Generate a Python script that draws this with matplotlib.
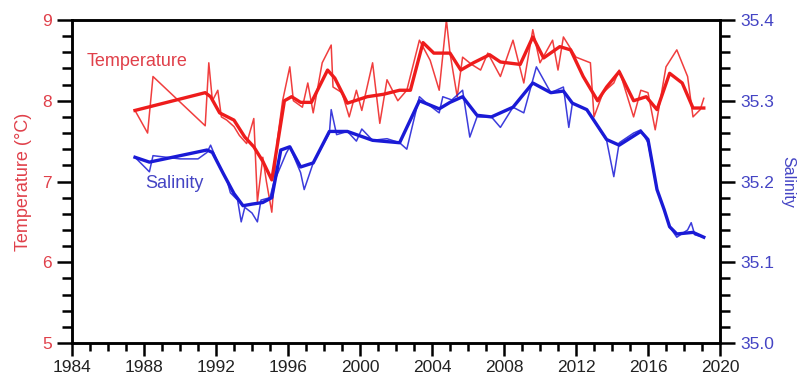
import matplotlib
matplotlib.use("Agg")
from matplotlib import pyplot as plt
from matplotlib.ticker import MultipleLocator

plt.rcParams['font.family'] = ['Liberation Sans', 'DejaVu Sans']

# температура, сырые значения
temp_raw_year = [1987.5, 1988.2, 1988.5, 1991.4, 1991.6, 1991.8, 1992.1, 1992.3, 1992.6, 1993.0,
                 1993.3, 1993.7, 1994.1, 1994.3, 1994.6, 1994.8, 1995.1, 1995.4, 1995.7, 1996.1,
                 1996.3, 1996.8, 1997.1, 1997.4, 1997.9, 1998.4, 1998.5, 1999.0, 1999.4, 1999.8,
                 2000.1, 2000.7, 2001.1, 2001.5, 2002.1, 2002.6, 2003.3, 2003.9, 2004.4, 2004.8,
                 2005.0, 2005.4, 2005.7, 2006.2, 2006.7, 2007.1, 2007.8, 2008.5, 2009.1, 2009.6,
                 2010.0, 2010.7, 2011.0, 2011.3, 2012.0, 2012.8, 2013.0, 2013.5, 2014.1, 2014.4,
                 2015.2, 2015.6, 2016.0, 2016.4, 2017.0, 2017.6, 2018.2, 2018.5, 2018.9, 2019.1]
temp_raw = [7.88, 7.60, 8.30, 7.69, 8.47, 8.00, 8.13, 7.80, 7.76, 7.68,
            7.57, 7.47, 7.78, 6.75, 7.30, 7.00, 6.62, 7.50, 8.00, 8.42,
            8.00, 7.92, 8.22, 7.85, 8.47, 8.69, 8.17, 8.10, 7.80, 8.13,
            7.88, 8.47, 7.72, 8.26, 8.00, 8.13, 8.75, 8.50, 8.13, 9.00,
            8.59, 8.05, 8.54, 8.45, 8.38, 8.59, 8.30, 8.75, 8.22, 8.88,
            8.47, 8.75, 8.38, 8.79, 8.54, 8.47, 7.80, 8.10, 8.22, 8.38,
            7.80, 8.13, 8.10, 7.64, 8.42, 8.63, 8.30, 7.80, 7.89, 8.03]

# температура, сглаженная
temp_smooth_year = [1987.5, 1991.4, 1991.7, 1992.2, 1993.0, 1993.6, 1994.1, 1994.6, 1995.1, 1995.8,
                    1996.2, 1996.7, 1997.3, 1998.2, 1998.6, 1999.3, 2000.4, 2001.3, 2002.2, 2002.8,
                    2003.5, 2004.1, 2005.0, 2005.6, 2006.3, 2007.2, 2007.8, 2008.9, 2009.6, 2010.2,
                    2011.1, 2011.7, 2012.4, 2013.2, 2013.7, 2014.4, 2015.2, 2015.9, 2016.5, 2017.2,
                    2017.9, 2018.5, 2019.1]
temp_smooth = [7.88, 8.10, 8.05, 7.85, 7.76, 7.55, 7.43, 7.25, 7.02, 8.00,
               8.05, 7.98, 7.98, 8.38, 8.28, 7.97, 8.05, 8.08, 8.13, 8.13,
               8.72, 8.59, 8.59, 8.38, 8.47, 8.57, 8.48, 8.45, 8.79, 8.53,
               8.67, 8.63, 8.30, 8.00, 8.17, 8.36, 8.00, 8.05, 7.89, 8.34,
               8.22, 7.91, 7.91]

# солёность, сырые значения
sal_raw_year = [1987.5, 1988.3, 1988.5, 1990.0, 1991.0, 1991.5, 1991.7, 1992.2, 1992.6, 1992.8,
                1993.2, 1993.4, 1993.6, 1994.0, 1994.3, 1994.5, 1995.0, 1995.2, 1995.9, 1996.1,
                1996.7, 1996.9, 1997.4, 1998.3, 1998.4, 1998.7, 1999.3, 1999.8, 2000.1, 2000.7,
                2001.5, 2002.2, 2002.6, 2003.3, 2003.7, 2004.4, 2004.6, 2005.1, 2005.7, 2006.1,
                2006.5, 2007.3, 2007.8, 2008.5, 2009.1, 2009.8, 2010.6, 2011.3, 2011.6, 2011.8,
                2012.6, 2013.7, 2014.1, 2014.4, 2015.2, 2015.6, 2016.0, 2016.5, 2016.9, 2017.2,
                2017.6, 2018.2, 2018.4, 2018.6, 2019.1]
sal_raw = [35.230, 35.212, 35.232, 35.228, 35.228, 35.236, 35.245, 35.218, 35.202, 35.186,
           35.177, 35.150, 35.168, 35.161, 35.150, 35.177, 35.180, 35.198, 35.235, 35.243,
           35.211, 35.190, 35.223, 35.260, 35.289, 35.258, 35.262, 35.250, 35.265, 35.251,
           35.253, 35.248, 35.240, 35.305, 35.297, 35.285, 35.305, 35.301, 35.313, 35.255,
           35.280, 35.280, 35.267, 35.292, 35.285, 35.342, 35.310, 35.317, 35.267, 35.297,
           35.289, 35.251, 35.206, 35.248, 35.260, 35.264, 35.248, 35.190, 35.165, 35.144,
           35.131, 35.140, 35.149, 35.134, 35.131]

# солёность, сглаженная
sal_smooth_year = [1987.5, 1988.3, 1991.5, 1991.8, 1992.4, 1993.0, 1993.5, 1994.0, 1994.6, 1995.1,
                   1995.6, 1996.1, 1996.7, 1997.4, 1998.3, 1999.3, 2000.7, 2002.2, 2003.3, 2004.4,
                   2005.0, 2005.7, 2006.5, 2007.3, 2008.5, 2009.6, 2010.6, 2011.3, 2011.8, 2012.6,
                   2013.7, 2014.4, 2015.6, 2016.0, 2016.5, 2016.9, 2017.2, 2017.6, 2018.5, 2019.1]
sal_smooth = [35.230, 35.224, 35.239, 35.236, 35.210, 35.185, 35.170, 35.172, 35.174, 35.180,
              35.239, 35.243, 35.218, 35.223, 35.262, 35.262, 35.251, 35.248, 35.300, 35.290,
              35.298, 35.305, 35.282, 35.280, 35.292, 35.322, 35.310, 35.312, 35.297, 35.289,
              35.252, 35.245, 35.262, 35.252, 35.190, 35.165, 35.144, 35.135, 35.137, 35.131]

RED = '#ee1c1c'
BLUE = '#1a1ad6'
RED_TXT = '#e0404a'
BLUE_TXT = '#4444c4'

fig = plt.figure(figsize=(7.98, 3.8), dpi=100)
ax = fig.add_axes([72/798, 1 - 343/380, 648/798, 323/380])
ax2 = ax.twinx()

ax.plot(temp_raw_year, temp_raw, color=RED, lw=1.1, alpha=0.85)
ax.plot(temp_smooth_year, temp_smooth, color=RED, lw=2.4)
ax2.plot(sal_raw_year, sal_raw, color=BLUE, lw=1.1, alpha=0.85)
ax2.plot(sal_smooth_year, sal_smooth, color=BLUE, lw=2.4)

ax.set_xlim(1984, 2020)
ax.set_ylim(5, 9)
ax2.set_ylim(35.0, 35.4)

ax.xaxis.set_major_locator(MultipleLocator(4))
ax.xaxis.set_minor_locator(MultipleLocator(1))
ax.yaxis.set_major_locator(MultipleLocator(1))
ax.yaxis.set_minor_locator(MultipleLocator(0.2))
ax2.yaxis.set_major_locator(MultipleLocator(0.1))
ax2.yaxis.set_minor_locator(MultipleLocator(0.02))
ax2.set_yticklabels(['%.1f' % v for v in ax2.get_yticks()])

for a in (ax, ax2):
    for s in a.spines.values():
        s.set_linewidth(1.8)

ax.tick_params(axis='x', which='major', length=9, width=1.8, labelsize=12.5, labelcolor='#222222', direction='out')
ax.tick_params(axis='x', which='minor', length=5.5, width=1.8, direction='out')
ax.tick_params(axis='y', which='major', length=11, width=1.8, labelsize=12.5, labelcolor=RED_TXT, direction='out')
ax.tick_params(axis='y', which='minor', length=7, width=1.8, direction='out')
ax2.tick_params(axis='y', which='major', length=11, width=1.8, labelsize=12.5, labelcolor=BLUE_TXT, direction='out')
ax2.tick_params(axis='y', which='minor', length=7, width=1.8, direction='out')

ax.set_ylabel('Temperature (°C)', color=RED_TXT, fontsize=13, labelpad=7)
ax2.set_ylabel('Salinity', color=BLUE_TXT, fontsize=11.5, rotation=-90, labelpad=15)

ax.text(1984.8, 8.48, 'Temperature', color=RED_TXT, fontsize=13, va='center', ha='left')
ax.text(1988.05, 6.98, 'Salinity', color=BLUE_TXT, fontsize=13, va='center', ha='left')

fig.savefig('out.png', dpi=100)
